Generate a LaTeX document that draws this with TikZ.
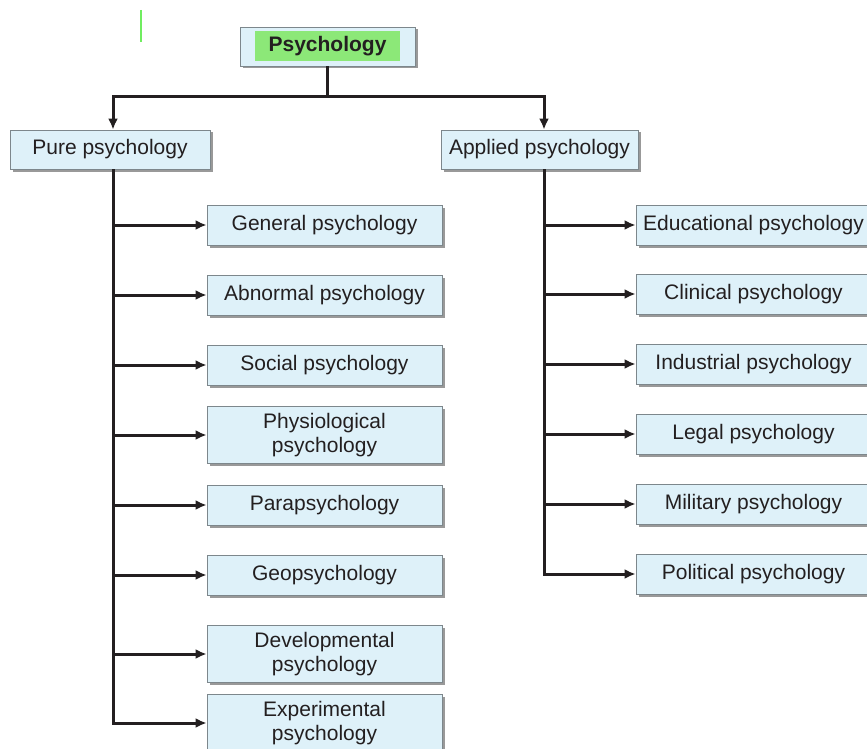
\documentclass[tikz,border=0pt]{standalone}
\usepackage{fontspec}
\setmainfont{Liberation Sans}
\usetikzlibrary{arrows.meta,positioning,shadows}
\definecolor{boxfill}{RGB}{222,241,249}
\definecolor{boxline}{RGB}{125,135,140}
\definecolor{hlgreen}{RGB}{140,232,120}
\definecolor{inkdark}{RGB}{35,31,32}

\begin{document}
\begin{tikzpicture}[
x=1pt, y=-1pt,
box/.style={draw=boxline, line width=0.8pt, fill=boxfill, text=inkdark, minimum width=235pt, minimum height=40pt, inner ysep=6.5pt, align=center, font=\fontsize{21}{24}\selectfont, drop shadow={shadow xshift=2.5pt, shadow yshift=-2.5pt, fill=gray!80, opacity=1}},
hilite/.style={fill=hlgreen, minimum width=145pt, minimum height=30pt, inner sep=0pt, text=inkdark, font=\fontsize{21}{24}\selectfont\bfseries},
line/.style={line width=3pt, draw=inkdark},
arrow/.style={line, -{Latex[length=11pt, width=10pt]}}
]
\useasboundingbox (0,0) rectangle (867,749);
\draw[hlgreen!80!green, line width=1.3pt] (141,10) -- (141,42);

% top levels
\node[box, minimum width=175pt, minimum height=39pt] (root) at (327.5,46.5) {};
\node[hilite] (rootlbl) at (root) {Psychology};
\node[box, minimum width=200pt, minimum height=39pt] (pure) at (110,149.5) {Pure psychology};
\node[box, minimum width=197pt, minimum height=39pt] (applied) at (539.5,149.5) {Applied psychology};

% pure branches
\node[box] (gen) at (324.5,225) {General psychology};
\node[box] (abn) at (324.5,295) {Abnormal psychology};
\node[box] (soc) at (324.5,365) {Social psychology};
\node[box] (phys) at (324.5,435) {Physiological\\psychology};
\node[box] (para) at (324.5,505) {Parapsychology};
\node[box] (geo) at (324.5,575) {Geopsychology};
\node[box] (devel) at (324.5,654) {Developmental\\psychology};
\node[box] (exper) at (324.5,723) {Experimental\\psychology};

% applied branches
\node[box] (edu) at (753.5,225) {Educational psychology};
\node[box] (clin) at (753.5,294) {Clinical psychology};
\node[box] (ind) at (753.5,364) {Industrial psychology};
\node[box] (legal) at (753.5,434) {Legal psychology};
\node[box] (mil) at (753.5,504) {Military psychology};
\node[box] (pol) at (753.5,574) {Political psychology};

\coordinate (split) at ([yshift=-30pt]root.south);
\coordinate (ltrunk) at ([xshift=3pt]pure.south);
\coordinate (rtrunk) at ([xshift=4.5pt]applied.south);

\draw[line] (root) -- (split);
\draw[arrow] (split) -| ([xshift=3pt]pure.north);
\draw[arrow] (split) -| ([xshift=4.5pt]applied.north);

\draw[arrow] (ltrunk) |- (exper.west);
\draw[arrow] (ltrunk |- gen.west) -- (gen.west);
\draw[arrow] (ltrunk |- abn.west) -- (abn.west);
\draw[arrow] (ltrunk |- soc.west) -- (soc.west);
\draw[arrow] (ltrunk |- phys.west) -- (phys.west);
\draw[arrow] (ltrunk |- para.west) -- (para.west);
\draw[arrow] (ltrunk |- geo.west) -- (geo.west);
\draw[arrow] (ltrunk |- devel.west) -- (devel.west);

\draw[arrow] (rtrunk) |- (pol.west);
\draw[arrow] (rtrunk |- edu.west) -- (edu.west);
\draw[arrow] (rtrunk |- clin.west) -- (clin.west);
\draw[arrow] (rtrunk |- ind.west) -- (ind.west);
\draw[arrow] (rtrunk |- legal.west) -- (legal.west);
\draw[arrow] (rtrunk |- mil.west) -- (mil.west);
\end{tikzpicture}
\end{document}
